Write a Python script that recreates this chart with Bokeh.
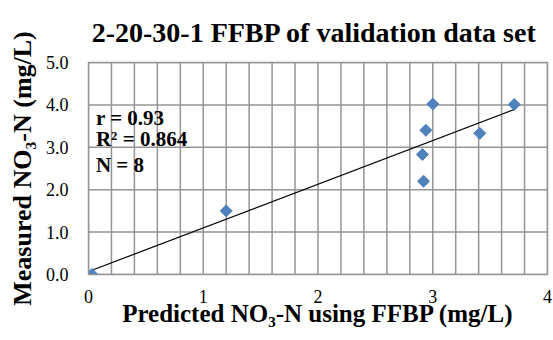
import numpy as np
from bokeh.plotting import figure
from bokeh.models import Range1d, Label, FixedTicker, PrintfTickFormatter
from bokeh.embed import file_html
from bokeh.resources import INLINE

# data
predicted = [0.03, 1.20, 2.92, 2.91, 2.94, 3.00, 3.41, 3.71]
measured = [0.00, 1.50, 2.20, 2.83, 3.40, 4.02, 3.33, 4.01]
stats_lines = ["r = 0.93", "R² = 0.864", "N = 8"]
x_ticks = [0, 1, 2, 3, 4]
x_minor_ticks = [0.2, 0.4, 0.6, 0.8, 1.2, 1.4, 1.6, 1.8, 2.2, 2.4, 2.6, 2.8, 3.2, 3.4, 3.6, 3.8]
y_ticks = [0, 1, 2, 3, 4, 5]

FONT = "Liberation Serif"
GRID = "#959595"
X_MIN, X_MAX = 0, 4
Y_MIN, Y_MAX = 0, 5

p = figure(width=553, height=340, output_backend="svg", toolbar_location=None,
           x_range=Range1d(X_MIN, X_MAX), y_range=Range1d(Y_MIN, Y_MAX),
           min_border_left=88, min_border_right=6, min_border_top=59, min_border_bottom=66,
           title="2-20-30-1 FFBP of validation  data set")

p.title.text_font = FONT
p.title.text_font_size = "28px"
p.title.text_font_style = "bold"
p.title.align = "center"
p.title.text_color = "black"
p.title.standoff = 29

# axes
p.xaxis.ticker = FixedTicker(ticks=x_ticks, minor_ticks=x_minor_ticks)
p.yaxis.ticker = FixedTicker(ticks=y_ticks)
p.yaxis.formatter = PrintfTickFormatter(format="%.1f")
p.xaxis.formatter = PrintfTickFormatter(format="%d")

p.xaxis.axis_line_color = GRID
p.yaxis.axis_line_color = GRID
for attr in ("major_tick_out", "major_tick_in", "minor_tick_out", "minor_tick_in"):
    setattr(p.xaxis, attr, 0)
    setattr(p.yaxis, attr, 0)

p.xaxis.major_label_text_font = FONT
p.yaxis.major_label_text_font = FONT
p.xaxis.major_label_text_font_size = "18px"
p.yaxis.major_label_text_font_size = "18px"
p.xaxis.major_label_text_color = "black"
p.yaxis.major_label_text_color = "black"
p.xaxis.axis_label_text_font = FONT
p.yaxis.axis_label_text_font = FONT
p.xaxis.axis_label_text_font_size = "25px"
p.yaxis.axis_label_text_font_size = "26px"
p.xaxis.axis_label_text_font_style = "bold"
p.yaxis.axis_label_text_font_style = "bold"
p.xaxis.axis_label_text_color = "black"
p.yaxis.axis_label_text_color = "black"

p.xaxis.axis_label = "Predicted NO₃-N using FFBP (mg/L)"
p.yaxis.axis_label = "Measured NO₃-N (mg/L)"
p.xaxis.major_label_standoff = 15
p.yaxis.major_label_standoff = 20
p.xaxis.axis_label_standoff = -6
p.yaxis.axis_label_standoff = 6

p.xgrid.grid_line_color = None
p.ygrid.grid_line_color = None
p.outline_line_color = GRID
p.outline_line_width = 1.5

# grid lines drawn from the tick lists
vx = sorted(x_ticks + x_minor_ticks)
p.segment(x0=vx, x1=vx, y0=[Y_MIN] * len(vx), y1=[Y_MAX] * len(vx),
          line_color=GRID, line_width=1.5)
p.segment(x0=[X_MIN] * len(y_ticks), x1=[X_MAX] * len(y_ticks), y0=y_ticks, y1=y_ticks,
          line_color=GRID, line_width=1.5)

# trendline (least squares from the data)
slope, intercept = np.polyfit(predicted, measured, 1)
xs = np.array([min(predicted), max(predicted)])
p.line(xs, slope * xs + intercept, line_color="black", line_width=1.2)

p.scatter(predicted, measured, marker="square", size=8.5, angle=np.pi / 4,
          fill_color="#4F81BD", line_color="#4F81BD")

# statistics text
stat_y = [3.70, 3.19, 2.58]
for txt, yy in zip(stats_lines, stat_y):
    p.add_layout(Label(x=0.065, y=yy, text=txt, text_font=FONT, text_font_size="21px",
                       text_font_style="bold", text_color="black", text_baseline="alphabetic",
                       background_fill_color="white", background_fill_alpha=0))

open("out.html", "w").write(file_html(p, INLINE))
